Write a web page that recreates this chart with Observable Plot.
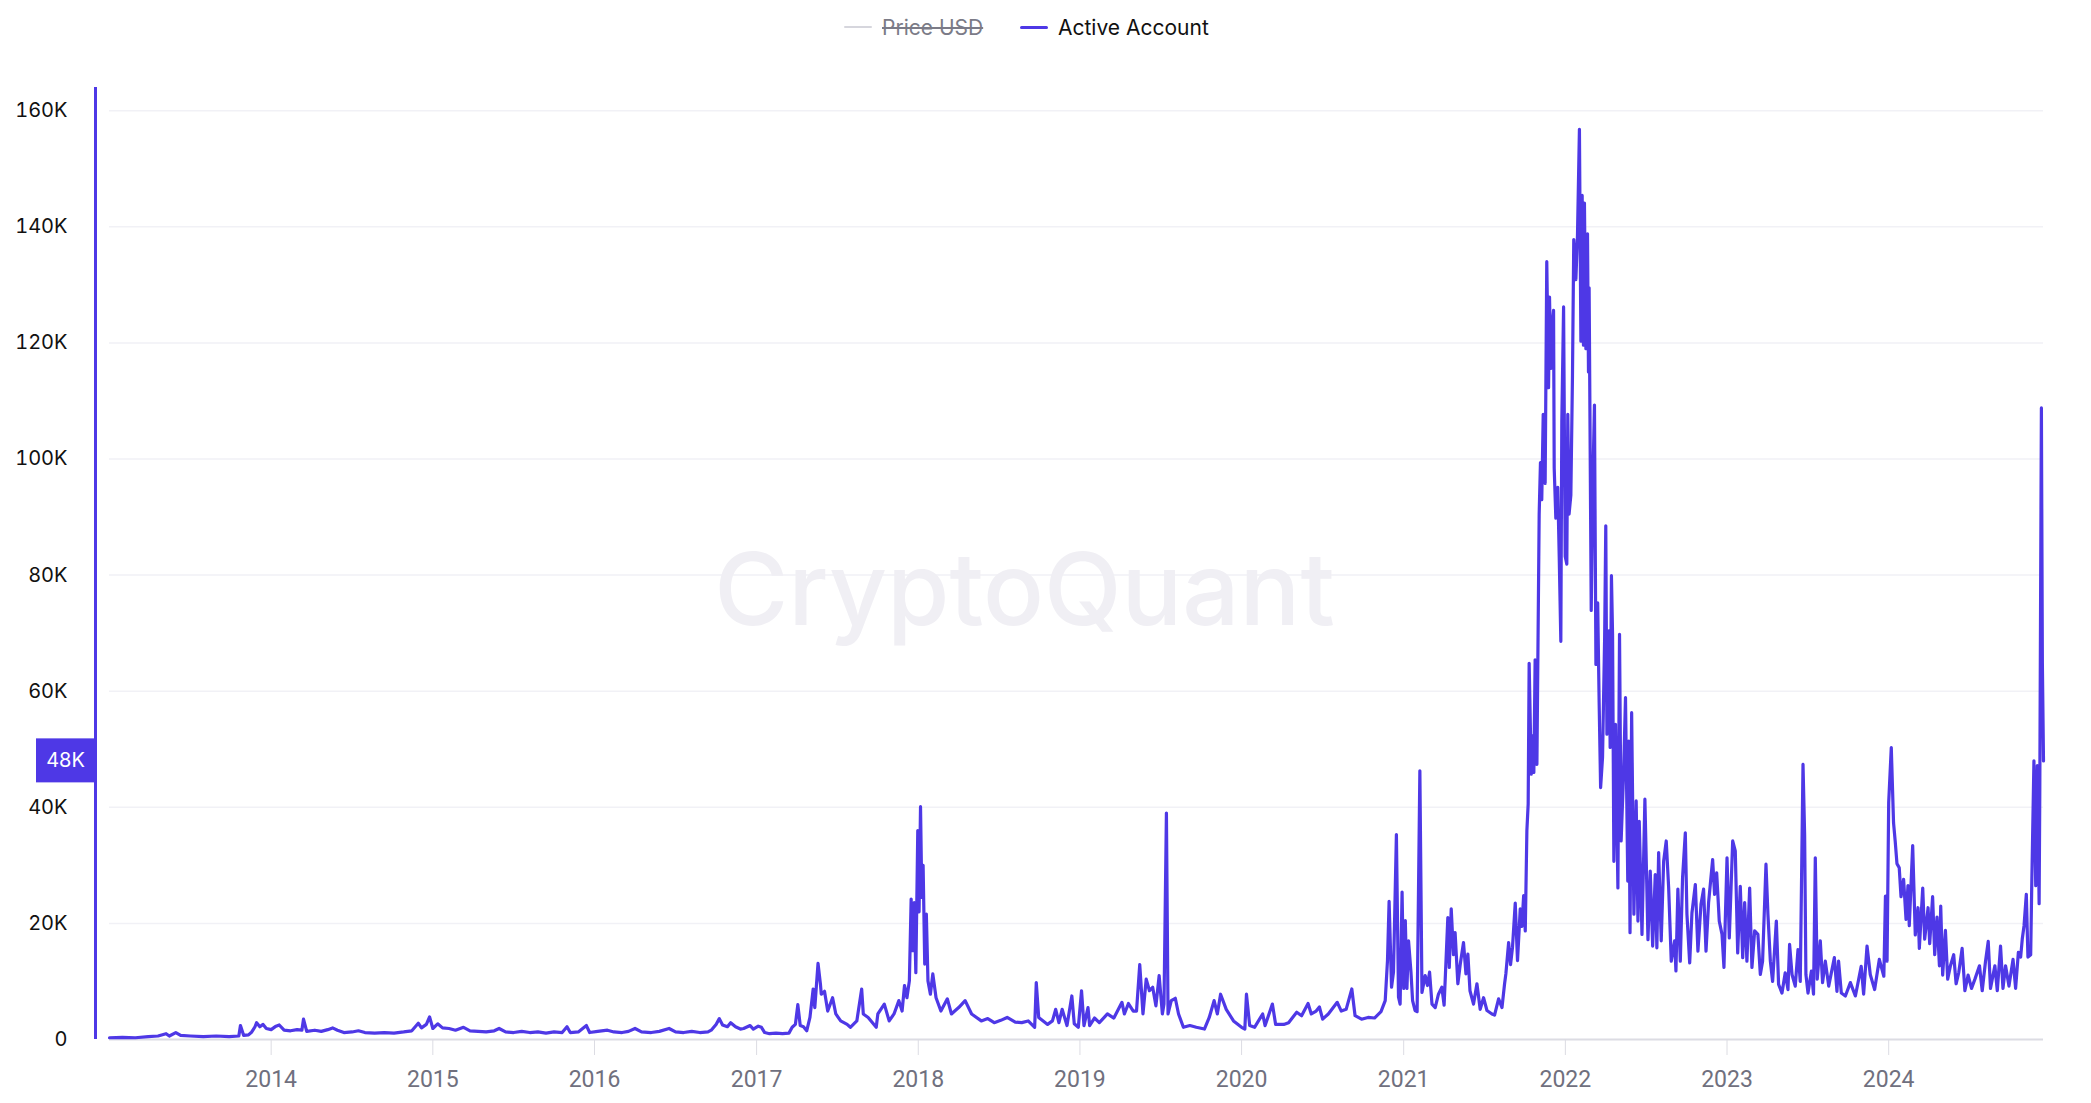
<!DOCTYPE html>
<html>
<head>
<meta charset="utf-8">
<script src="https://cdn.jsdelivr.net/npm/d3@7"></script>
<script src="https://cdn.jsdelivr.net/npm/@observablehq/plot@0.6"></script>
<style>
  html, body { margin: 0; padding: 0; background: #ffffff; overflow: hidden; }
  #legend { position: relative; height: 54px; width: 2091px; font-family: Inter, "Noto Sans", sans-serif; font-size: 21px; }
  .item { position: absolute; top: 0; height: 54px; display: flex; align-items: center; }
  .swatch { display: inline-block; width: 28px; margin-right: 10px; }
  #chart svg { display: block; }
</style>
</head>
<body>
<div id="legend"></div>
<div id="chart"></div>
<script>
// ---- Data (decimal year, active accounts in thousands) ----
const era2013to2016 = [
  [2013.00,0.3],[2013.08,0.35],[2013.16,0.3],[2013.24,0.5],[2013.30,0.6],[2013.35,1.0],[2013.37,0.6],[2013.41,1.2],
  [2013.44,0.7],[2013.50,0.6],[2013.58,0.5],[2013.66,0.6],[2013.74,0.5],[2013.80,0.6],[2013.81,2.4],[2013.83,0.7],
  [2013.86,0.8],[2013.88,1.3],[2013.90,2.2],[2013.91,2.9],[2013.93,2.2],[2013.95,2.6],[2013.97,1.9],[2014.00,1.7],
  [2014.03,2.3],[2014.05,2.5],[2014.08,1.6],[2014.12,1.5],[2014.16,1.7],[2014.19,1.6],[2014.20,3.5],[2014.22,1.4],
  [2014.27,1.6],[2014.31,1.4],[2014.35,1.7],[2014.38,2.0],[2014.41,1.6],[2014.45,1.2],[2014.50,1.3],[2014.54,1.5],
  [2014.58,1.2],[2014.64,1.1],[2014.70,1.2],[2014.76,1.1],[2014.82,1.3],[2014.87,1.5],[2014.91,2.8],[2014.93,2.0],
  [2014.96,2.6],[2014.98,3.9],[2015.00,1.9],[2015.03,2.7],[2015.06,2.0],[2015.10,1.9],[2015.14,1.6],[2015.19,2.1],
  [2015.23,1.5],[2015.28,1.4],[2015.33,1.3],[2015.38,1.5],[2015.41,1.9],[2015.45,1.3],[2015.50,1.2],[2015.55,1.4],
  [2015.60,1.2],[2015.65,1.3],[2015.70,1.1],[2015.75,1.3],[2015.80,1.2],[2015.83,2.2],[2015.85,1.2],[2015.90,1.3],
  [2015.95,2.4],[2015.97,1.2],[2016.02,1.4],[2016.08,1.6],[2016.12,1.3],[2016.17,1.2],[2016.21,1.4],[2016.25,1.9],
  [2016.29,1.3],[2016.35,1.2],[2016.40,1.4],[2016.46,1.9],[2016.50,1.3],[2016.55,1.2],[2016.60,1.4],[2016.65,1.2],
  [2016.70,1.3],[2016.72,1.6],[2016.75,2.6],[2016.77,3.6],[2016.79,2.5],[2016.82,2.2],[2016.84,2.9],[2016.87,2.2],
  [2016.90,1.8],[2016.92,1.9],[2016.96,2.4],[2016.98,1.8]
];
const era2017to2018 = [
  [2017.01,2.3],[2017.03,2.1],[2017.05,1.2],[2017.08,1.0],[2017.12,1.1],[2017.16,1.0],[2017.20,1.1],[2017.22,2.1],
  [2017.24,2.6],[2017.255,6.0],[2017.27,2.4],[2017.29,2.2],[2017.31,1.5],[2017.33,3.8],[2017.35,8.7],[2017.36,5.5],
  [2017.38,13.1],[2017.395,9.5],[2017.40,7.8],[2017.42,8.3],[2017.44,4.9],[2017.47,7.2],[2017.49,4.4],[2017.52,3.2],
  [2017.56,2.6],[2017.58,2.1],[2017.62,3.2],[2017.65,8.7],[2017.66,4.4],[2017.69,3.8],[2017.74,2.1],[2017.75,4.4],
  [2017.79,6.1],[2017.82,3.2],[2017.85,4.4],[2017.88,6.7],[2017.90,4.9],[2017.915,9.3],[2017.93,7.2],[2017.945,10.1],
  [2017.956,24.2],[2017.965,15.3],[2017.975,23.6],[2017.985,11.5],[2017.997,36.0],[2018.005,22.0],[2018.014,40.1],
  [2018.022,24.5],[2018.03,30.0],[2018.04,13.0],[2018.05,21.6],[2018.06,10.1],[2018.075,7.8],[2018.09,11.3],
  [2018.11,7.2],[2018.14,4.9],[2018.18,7.0],[2018.205,4.4],[2018.25,5.5],[2018.29,6.7],[2018.33,4.4],[2018.39,3.2],
  [2018.43,3.6],[2018.47,2.9],[2018.51,3.3],[2018.55,3.8],[2018.60,3.0],[2018.64,2.9],[2018.68,3.2],[2018.72,2.1],
  [2018.73,9.8],[2018.745,3.8],[2018.80,2.6],[2018.83,3.2],[2018.85,5.2],[2018.87,2.9],[2018.89,5.2],[2018.92,2.4],
  [2018.95,7.5],[2018.965,2.7],[2018.99,2.1]
];
const era2019to2020 = [
  [2019.01,8.4],[2019.025,2.4],[2019.05,5.5],[2019.06,2.4],[2019.09,3.7],[2019.12,2.9],[2019.17,4.4],[2019.21,3.7],
  [2019.26,6.4],[2019.275,4.4],[2019.30,6.2],[2019.33,4.9],[2019.35,4.9],[2019.37,12.9],[2019.39,4.4],[2019.41,10.4],
  [2019.43,8.4],[2019.45,9.0],[2019.47,5.8],[2019.49,11.0],[2019.51,4.4],[2019.52,6.1],[2019.535,39.0],[2019.545,4.4],
  [2019.565,6.7],[2019.59,7.1],[2019.61,4.4],[2019.64,2.1],[2019.68,2.4],[2019.72,2.1],[2019.77,1.8],[2019.80,3.8],
  [2019.83,6.7],[2019.85,4.4],[2019.87,7.8],[2019.905,5.2],[2019.95,3.2],[2020.00,2.1],[2020.02,1.8],[2020.03,7.8],
  [2020.05,2.4],[2020.08,2.1],[2020.13,4.4],[2020.145,2.4],[2020.19,6.1],[2020.21,2.6],[2020.26,2.6],[2020.29,2.9],
  [2020.34,4.7],[2020.37,4.1],[2020.41,6.2],[2020.43,4.4],[2020.46,4.9],[2020.48,5.6],[2020.50,3.5],[2020.535,4.4],
  [2020.59,6.4],[2020.615,4.9],[2020.645,5.2],[2020.68,8.7],[2020.70,4.1],[2020.74,3.5],[2020.78,3.8],[2020.82,3.7],
  [2020.86,4.8]
];
const era2021to2022 = [
  [2020.886,6.7],[2020.90,13.6],[2020.91,23.8],[2020.925,9.0],[2020.937,11.6],[2020.955,35.3],[2020.968,7.3],
  [2020.978,6.1],[2020.99,25.4],[2021.00,8.8],[2021.01,20.5],[2021.02,8.8],[2021.03,17.0],[2021.045,11.6],
  [2021.055,6.7],[2021.07,5.0],[2021.083,4.8],[2021.10,46.3],[2021.113,8.1],[2021.133,11.0],[2021.147,9.3],
  [2021.16,11.6],[2021.175,6.1],[2021.195,5.5],[2021.215,7.8],[2021.236,9.0],[2021.25,5.9],[2021.273,21.0],
  [2021.282,12.4],[2021.294,22.5],[2021.308,14.6],[2021.318,18.4],[2021.335,9.6],[2021.35,13.0],[2021.37,16.7],
  [2021.385,11.3],[2021.397,14.7],[2021.41,8.4],[2021.432,6.1],[2021.453,9.6],[2021.473,5.2],[2021.494,7.2],
  [2021.515,5.0],[2021.546,4.4],[2021.562,4.2],[2021.587,7.0],[2021.608,5.5],[2021.624,9.6],[2021.632,11.3],
  [2021.649,16.7],[2021.661,12.9],[2021.673,15.9],[2021.69,23.5],[2021.704,13.6],[2021.721,22.5],[2021.731,19.5],
  [2021.742,24.8],[2021.752,18.7],[2021.762,36.0],[2021.770,40.6],[2021.776,64.8],[2021.789,45.7],[2021.797,52.3],
  [2021.805,46.0],[2021.813,65.4],[2021.824,47.4],[2021.838,90.5],[2021.846,99.4],[2021.854,93.0],[2021.863,107.7],
  [2021.875,95.8],[2021.885,134.0],[2021.896,112.3],[2021.902,127.9],[2021.910,115.6],[2021.916,122.3],
  [2021.927,125.6],[2021.931,98.4],[2021.941,89.8],[2021.953,95.1],[2021.962,83.2],[2021.972,68.6],[2021.978,106.4],
  [2021.989,126.2],[2021.999,83.2],[2022.009,81.9],[2022.015,107.7],[2022.023,90.5],[2022.034,93.8],[2022.044,114.3],
  [2022.052,137.8],[2022.065,130.9],[2022.075,138.5],[2022.087,156.8],[2022.096,120.3],[2022.104,145.4],
  [2022.112,119.6],[2022.118,144.1],[2022.127,119.0],[2022.137,138.8],[2022.143,115.0],[2022.147,129.5],
  [2022.16,73.9],[2022.17,95.8],[2022.18,109.3],[2022.189,64.6],[2022.20,75.2],[2022.209,58.0],[2022.218,43.4],
  [2022.230,48.6],[2022.243,69.3],[2022.250,88.5],[2022.257,52.6],[2022.265,69.6],[2022.271,70.4],[2022.277,50.3],
  [2022.285,79.9],[2022.292,69.8],[2022.30,30.7],[2022.31,54.3],[2022.325,26.1],[2022.335,69.8],[2022.345,34.2],
  [2022.36,45.7],[2022.372,58.9],[2022.386,27.3],[2022.392,51.4],[2022.40,18.4],[2022.41,56.3],[2022.424,21.6],
  [2022.438,41.1],[2022.449,20.4],[2022.457,37.6],[2022.474,18.1],[2022.492,41.4],[2022.511,17.2],[2022.525,29.0],
  [2022.54,16.1],[2022.556,28.4],[2022.566,15.8],[2022.577,32.2],[2022.593,17.0],[2022.608,30.7],[2022.624,34.2],
  [2022.639,26.1],[2022.655,13.5],[2022.676,17.0],[2022.684,11.8],[2022.696,25.9],[2022.711,13.5],[2022.725,27.9],
  [2022.742,35.6],[2022.752,21.6],[2022.769,13.2],[2022.783,21.8],[2022.804,26.7],[2022.82,15.2],[2022.839,23.3],
  [2022.855,25.9],[2022.87,15.2],[2022.886,23.6],[2022.911,31.0],[2022.923,25.0],[2022.936,28.7],[2022.952,20.4],
  [2022.969,18.1],[2022.981,12.4]
];
const era2023to2024 = [
  [2023.000,31.3],[2023.014,17.5],[2023.035,34.2],[2023.051,32.5],[2023.066,14.9],[2023.082,26.4],[2023.097,14.1],
  [2023.109,23.6],[2023.123,13.5],[2023.14,26.1],[2023.154,12.4],[2023.171,18.7],[2023.191,18.1],[2023.206,11.2],
  [2023.22,13.5],[2023.241,30.2],[2023.253,21.6],[2023.268,13.5],[2023.282,10.0],[2023.305,20.4],[2023.319,9.5],
  [2023.34,8.0],[2023.36,11.5],[2023.377,8.6],[2023.387,16.4],[2023.402,11.2],[2023.422,9.2],[2023.439,15.5],
  [2023.453,10.0],[2023.470,47.4],[2023.48,35.3],[2023.488,11.2],[2023.501,8.0],[2023.522,11.8],[2023.535,7.8],
  [2023.546,31.3],[2023.558,10.4],[2023.577,17.0],[2023.591,9.8],[2023.608,13.5],[2023.629,9.2],[2023.664,14.1],
  [2023.68,8.3],[2023.69,13.5],[2023.707,8.0],[2023.732,7.5],[2023.763,9.8],[2023.794,7.5],[2023.83,12.6],
  [2023.845,7.8],[2023.866,16.1],[2023.886,11.2],[2023.913,8.6],[2023.942,13.8],[2023.97,10.9],[2023.98,24.7],
  [2023.99,13.5],[2024.000,40.8],[2024.016,50.3],[2024.03,37.3],[2024.04,34.2],[2024.051,30.3],[2024.065,29.6],
  [2024.076,24.6],[2024.092,27.6],[2024.107,20.7],[2024.119,26.5],[2024.127,19.6],[2024.148,33.4],[2024.164,18.0],
  [2024.181,22.7],[2024.189,15.7],[2024.21,26.1],[2024.222,17.3],[2024.243,22.7],[2024.253,16.5],[2024.271,24.6],
  [2024.284,14.6],[2024.298,21.1],[2024.313,12.7],[2024.321,23.0],[2024.333,11.1],[2024.35,18.8],[2024.364,10.4],
  [2024.381,12.7],[2024.401,14.6],[2024.416,9.6],[2024.432,11.5],[2024.453,15.7],[2024.47,8.4],[2024.49,11.1],
  [2024.511,8.8],[2024.532,10.4],[2024.56,12.7],[2024.577,8.4],[2024.597,13.4],[2024.614,16.9],[2024.628,8.8],
  [2024.655,12.7],[2024.67,8.4],[2024.69,16.1],[2024.705,8.8],[2024.721,12.7],[2024.742,9.2],[2024.767,13.8],
  [2024.783,8.8],[2024.80,15.0],[2024.814,14.2],[2024.824,17.3],[2024.835,19.6],[2024.849,25.0],[2024.859,14.2],
  [2024.876,14.6],[2024.882,25.7],[2024.896,48.0],[2024.907,26.5],[2024.917,47.2],[2024.928,23.4],[2024.932,41.9],
  [2024.942,108.8],[2024.948,64.9],[2024.955,48.0]
];

const yTickValues = [0, 20000, 40000, 60000, 80000, 100000, 120000, 140000, 160000];
const xTickYears = [2014, 2015, 2016, 2017, 2018, 2019, 2020, 2021, 2022, 2023, 2024];
const legendItems = [
  {label: "Price USD", color: "#d6d6dd", text: "#7b7b87", strike: true, width: 2},
  {label: "Active Account", color: "#4e38e6", text: "#111111", strike: false, width: 3}
];
const seriesColor = "#4e38e6";
const watermark = "CryptoQuant";

// ---- Build table ----
function toDate(y) {
  const yr = Math.floor(y);
  const s = Date.UTC(yr, 0, 1), e = Date.UTC(yr + 1, 0, 1);
  return new Date(s + (y - yr) * (e - s));
}
const data = [...era2013to2016, ...era2017to2018, ...era2019to2020, ...era2021to2022, ...era2023to2024]
  .map(([t, k]) => ({date: toDate(t), value: k * 1000}));
const first = data[0].date, last = data[data.length - 1].date;
const lastValue = data[data.length - 1].value;
const fmtK = d => d === 0 ? "0" : Math.round(d / 1000) + "K";

// ---- Legend ----
const legend = document.getElementById("legend");
const lefts = [844, 1020];
legendItems.forEach((it, i) => {
  const el = document.createElement("div");
  el.className = "item";
  el.style.left = lefts[i] + "px";
  const sw = document.createElement("span");
  sw.className = "swatch";
  sw.style.height = it.width + "px";
  sw.style.background = it.color;
  sw.style.borderRadius = "2px";
  const tx = document.createElement("span");
  tx.textContent = it.label;
  tx.style.color = it.text;
  if (it.strike) tx.style.textDecoration = "line-through";
  el.append(sw, tx);
  legend.append(el);
});

// ---- Chart ----
const valueTag = (index, scales, values, dims) => {
  const g = d3.create("svg:g");
  const cy = scales.y(lastValue);
  g.append("rect").attr("x", dims.marginLeft - 73).attr("y", cy - 22).attr("width", 59).attr("height", 44).attr("fill", seriesColor);
  g.append("text").attr("x", dims.marginLeft - 43.5).attr("y", cy).attr("dy", "0.35em").attr("text-anchor", "middle")
    .attr("fill", "#ffffff").attr("font-size", 20).attr("font-family", "Inter, sans-serif").text(fmtK(lastValue));
  return g.node();
};

const chart = Plot.plot({
  width: 2091,
  height: 1049,
  marginTop: 33,
  marginBottom: 64,
  marginLeft: 109,
  marginRight: 48,
  style: {background: "#ffffff", fontFamily: "Inter, 'Noto Sans', sans-serif", overflow: "visible"},
  x: {type: "utc", domain: [first, last]},
  y: {domain: [0, 164000]},
  marks: [
    Plot.ruleY(yTickValues.filter(d => d > 0), {stroke: "#f1f1f6", strokeWidth: 1.5}),
    Plot.text([watermark], {frameAnchor: "middle", dx: -52, dy: 29, fontSize: 101, fontWeight: 500, fill: "#f0eff4", fontFamily: "Inter, sans-serif"}),
    Plot.ruleY([0], {stroke: "#dcdce3", strokeWidth: 2}),
    Plot.axisX({ticks: xTickYears.map(y => new Date(Date.UTC(y, 0, 1))), tickFormat: "%Y", tickSize: 16, tickPadding: 15,
      stroke: "#dcdce3", fill: "#70707e", fontSize: 23, fontFamily: "Roboto, sans-serif", label: null}),
    Plot.axisY({ticks: yTickValues, tickFormat: fmtK, tickSize: 0, tickPadding: 42, fill: "#111111", fontSize: 20, label: null}),
    Plot.lineY(data, {x: "date", y: "value", stroke: seriesColor, strokeWidth: 3.2, strokeLinejoin: "round"}),
    Plot.ruleX([first], {y1: 0, y2: 164000, dx: -14, stroke: seriesColor, strokeWidth: 3}),
    valueTag
  ]
});
document.getElementById("chart").append(chart);
</script>
</body>
</html>
